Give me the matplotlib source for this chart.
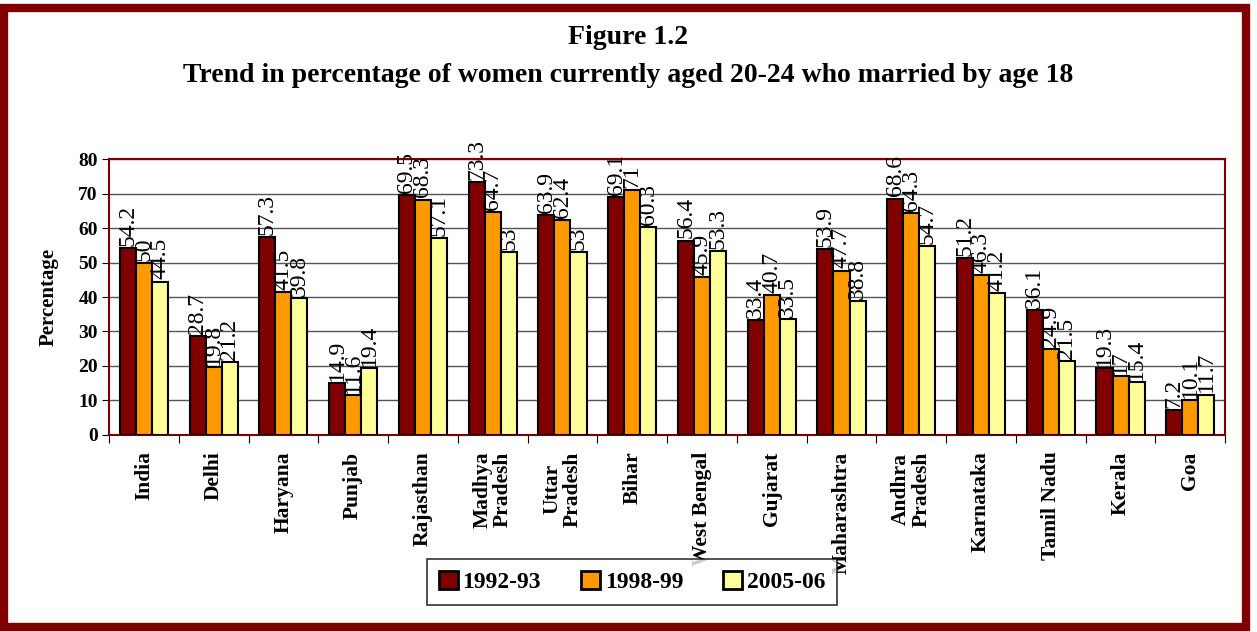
import numpy as np
import matplotlib.pyplot as plt
from matplotlib.patches import Rectangle

states = ["India", "Delhi", "Haryana", "Punjab", "Rajasthan", "Madhya\nPradesh",
          "Uttar\nPradesh", "Bihar", "West Bengal", "Gujarat", "Maharashtra",
          "Andhra\nPradesh", "Karnataka", "Tamil Nadu", "Kerala", "Goa"]
y1992 = [54.2, 28.7, 57.3, 14.9, 69.5, 73.3, 63.9, 69.1, 56.4, 33.4, 53.9, 68.6, 51.2, 36.1, 19.3, 7.2]
y1998 = [50, 19.8, 41.5, 11.6, 68.3, 64.7, 62.4, 71, 45.9, 40.7, 47.7, 64.3, 46.3, 24.9, 17, 10.1]
y2005 = [44.5, 21.2, 39.8, 19.4, 57.1, 53, 53, 60.3, 53.3, 33.5, 38.8, 54.7, 41.2, 21.5, 15.4, 11.7]
series = ["1992-93", "1998-99", "2005-06"]
colors = ["#800000", "#FF9900", "#FFFF99"]

plt.rcParams['font.family'] = ['Liberation Serif', 'DejaVu Serif']

fig = plt.figure(figsize=(12.57, 6.32), dpi=100)
ax = fig.add_axes([0.0867, 0.312, 0.888, 0.436])

x = np.arange(len(states))
w = 0.23
for k, (vals, name, c) in enumerate(zip([y1992, y1998, y2005], series, colors)):
    pos = x + (k - 1) * w
    ax.bar(pos, vals, w, color=c, edgecolor="black", linewidth=1.5, label=name, zorder=3)
    for xp, v in zip(pos, vals):
        ax.text(xp, v + 0.6, f"{v:g}", rotation=90, ha="center", va="bottom",
                fontsize=17, zorder=4)

ax.set_xlim(-0.5, len(states) - 0.5)
ax.set_ylim(0, 80)
ax.set_yticks(range(0, 81, 10))
ax.set_yticklabels([str(t) for t in range(0, 81, 10)], fontsize=14, fontweight="bold")
ax.set_xticks(np.arange(len(states) + 1) - 0.5)
ax.set_xticklabels([])
ax.set_xticks(x, minor=True)
ax.set_xticklabels(states, minor=True, rotation=90, fontsize=15.5, fontweight="bold",
                   va="top", ha="center", linespacing=1.05)
ax.tick_params(axis="x", which="minor", length=0, pad=12)
ax.tick_params(axis="x", which="major", length=6, direction="out")
ax.tick_params(axis="y", length=5, direction="out", pad=3)
ax.yaxis.grid(True, color="#555555", linewidth=1, zorder=0)
for s in ax.spines.values():
    s.set_color("#800000")
    s.set_linewidth(1.5)
ax.set_ylabel("Percentage", fontsize=15, fontweight="bold", labelpad=14)

fig.text(0.5, 0.94, "Figure 1.2", ha="center", va="center", fontsize=20, fontweight="bold")
fig.text(0.5, 0.881, "Trend in percentage of women currently aged 20-24 who married by age 18",
         ha="center", va="center", fontsize=20, fontweight="bold")

leg = fig.legend(loc="center", bbox_to_anchor=(0.503, 0.079), ncol=3, frameon=True,
                 prop={"size": 17, "weight": "bold"}, fancybox=False, edgecolor="black",
                 handlelength=0.8, handleheight=0.8, handletextpad=0.2, columnspacing=1.7,
                 borderpad=0.5)
leg.get_frame().set_linewidth(1.2)
for h in leg.legend_handles:
    h.set_linewidth(2)

fig.patches.append(Rectangle((0.003, 0.008), 0.988, 0.98, transform=fig.transFigure,
                             fill=False, edgecolor="#800000", linewidth=6))

fig.savefig("out.png", dpi=100)
